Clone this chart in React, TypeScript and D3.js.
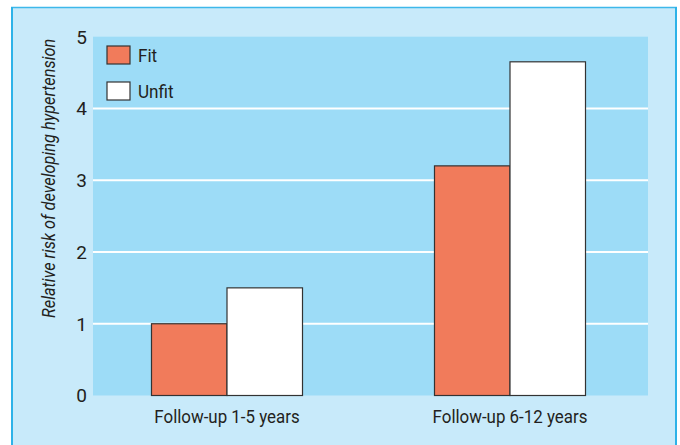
import React from "react";
import { scaleBand, scaleLinear } from "d3";

const groups = ["Follow-up 1-5 years", "Follow-up 6-12 years"];
const series = ["Fit", "Unfit"];
const fitValues = [1.0, 3.2];
const unfitValues = [1.5, 4.65];
const yTicks = [0, 1, 2, 3, 4, 5];
const yTitle = "Relative risk of developing hypertension";

const colors: Record<string, string> = { Fit: "#f17b5b", Unfit: "#ffffff" };
const FONT = "Roboto, 'Liberation Sans', sans-serif";

export default function App() {
  const W = 680;
  const H = 445;
  const plot = { left: 93, right: 648, top: 36.7, bottom: 395.5 };

  const y = scaleLinear().domain([0, 5]).range([plot.bottom, plot.top]);
  const x = scaleBand<string>()
    .domain(groups)
    .range([85.5, 651.5])
    .paddingInner(0.4664)
    .paddingOuter(0.2332);
  const xs = scaleBand<string>().domain(series).range([0, x.bandwidth()]);

  const rows = groups.map((g, i) => ({
    group: g,
    values: [
      { key: "Fit", value: fitValues[i] },
      { key: "Unfit", value: unfitValues[i] },
    ],
  }));

  return (
    <svg
      width={W}
      height={H}
      style={{ position: "absolute", left: 0, top: 0 }}
      fontFamily={FONT}
    >
      {/* outer panel */}
      <rect x={0} y={0} width={W} height={H} fill="#ffffff" />
      <rect x={11} y={7} width={666} height={450} fill="#c8eafa" />
      <line x1={11} x2={677} y1={7.5} y2={7.5} stroke="#3db8ea" strokeWidth={1.5} />
      <line x1={12} x2={12} y1={7} y2={H} stroke="#2db2e8" strokeWidth={2} />
      <line x1={676} x2={676} y1={7} y2={H} stroke="#2db2e8" strokeWidth={2} />

      {/* plot area */}
      <rect
        x={plot.left}
        y={plot.top}
        width={plot.right - plot.left}
        height={plot.bottom - plot.top}
        fill="#9ddcf7"
      />

      {/* grid */}
      {yTicks
        .filter((t) => t > 0 && t < 5)
        .map((t) => (
          <line
            key={t}
            x1={plot.left}
            x2={plot.right}
            y1={y(t)}
            y2={y(t)}
            stroke="#ffffff"
            strokeWidth={2}
          />
        ))}

      {/* bars */}
      {rows.map((r) => (
        <g key={r.group} transform={`translate(${x(r.group)},0)`}>
          {r.values.map((d) => (
            <rect
              key={d.key}
              x={xs(d.key)}
              y={y(d.value)}
              width={xs.bandwidth()}
              height={y(0) - y(d.value)}
              fill={colors[d.key]}
              stroke="#333333"
              strokeWidth={1.2}
            />
          ))}
          <text
            transform={`translate(${x.bandwidth() / 2},423) scale(0.89,1)`}
            textAnchor="middle"
            fontSize={19}
            fill="#231f20"
          >
            {r.group}
          </text>
        </g>
      ))}

      {/* y tick labels */}
      {yTicks.map((t) => (
        <text
          key={t}
          x={87}
          y={y(t)}
          dy="0.36em"
          textAnchor="end"
          fontSize={19}
          fill="#231f20"
        >
          {t}
        </text>
      ))}

      {/* y title */}
      <text
        transform={`translate(55,${(y(1) + 33) / 2}) rotate(-90) scale(0.907,1)`}
        textAnchor="middle"
        fontSize={18}
        fontStyle="italic"
        fill="#231f20"
      >
        {yTitle}
      </text>

      {/* legend */}
      {series.map((s, i) => (
        <g key={s} transform={`translate(107,${46 + i * 36})`}>
          <rect
            width={23}
            height={18}
            fill={colors[s]}
            stroke="#333333"
            strokeWidth={1.2}
          />
          <text
            transform="translate(31,16) scale(0.9,1)"
            fontSize={19}
            fill="#231f20"
          >
            {s}
          </text>
        </g>
      ))}
    </svg>
  );
}
